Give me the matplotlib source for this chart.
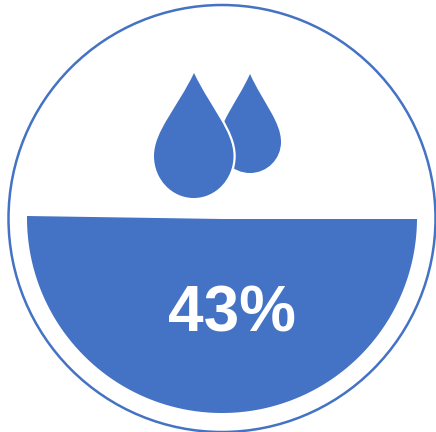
import matplotlib
matplotlib.use("Agg")
import numpy as np
import matplotlib.pyplot as plt
from matplotlib.path import Path
from matplotlib.patches import Circle, PathPatch, Polygon

LABEL = "43%"
BLUE = "#4472C4"
OUTER = (222, 218.5, 213.5)
INNER = (222, 218, 195)
BIG = (194, 73, 154, 233.5, 198, 156)
SMALL = (250, 74, 219, 281, 173, 142)

def drop(tip_x, tip_y, left, right, bottom, widest):
    cx = (left + right) / 2
    rx = (right - left) / 2
    ry = bottom - widest
    k = 0.5523
    h = widest - tip_y
    verts = [(tip_x, tip_y),
             (tip_x + rx * 0.42, tip_y + h * 0.42),
             (right, widest - h * 0.30),
             (right, widest),
             (right, widest + k * ry), (cx + k * rx, bottom), (cx, bottom),
             (cx - k * rx, bottom), (left, widest + k * ry), (left, widest),
             (left, widest - h * 0.30),
             (tip_x - rx * 0.42, tip_y + h * 0.42),
             (tip_x, tip_y),
             (tip_x, tip_y)]
    codes = [Path.MOVETO] + [Path.CURVE4] * 12 + [Path.CLOSEPOLY]
    return Path(verts, codes)

fig = plt.figure(figsize=(4.36, 4.32), dpi=100)
ax = fig.add_axes([0, 0, 1, 1])
ax.set_xlim(0, 436)
ax.set_ylim(432, 0)
ax.axis("off")

ax.add_patch(Circle(OUTER[:2], OUTER[2], fc="white", ec=BLUE, lw=1.8))

theta = np.linspace(0, np.pi, 200)
arc = np.column_stack([INNER[0] + INNER[2] * np.cos(theta),
                       INNER[1] + INNER[2] * np.sin(theta)])
arc[-1, 1] = 216
arc[0, 1] = 219
mid = [INNER[0], 219]
ax.add_patch(Polygon(np.vstack([arc, [mid]]), closed=True, fc=BLUE, ec="none"))

ax.add_patch(PathPatch(drop(*SMALL), fc=BLUE, ec="none"))
ax.add_patch(PathPatch(drop(*BIG), fc=BLUE, ec="white", lw=3.2))
ax.add_patch(PathPatch(drop(*BIG), fc=BLUE, ec="none"))

ax.text(232, 314, LABEL, color="white", fontsize=46, fontweight="bold",
        family="Liberation Sans", ha="center", va="center")

fig.savefig("out.png", dpi=100)
